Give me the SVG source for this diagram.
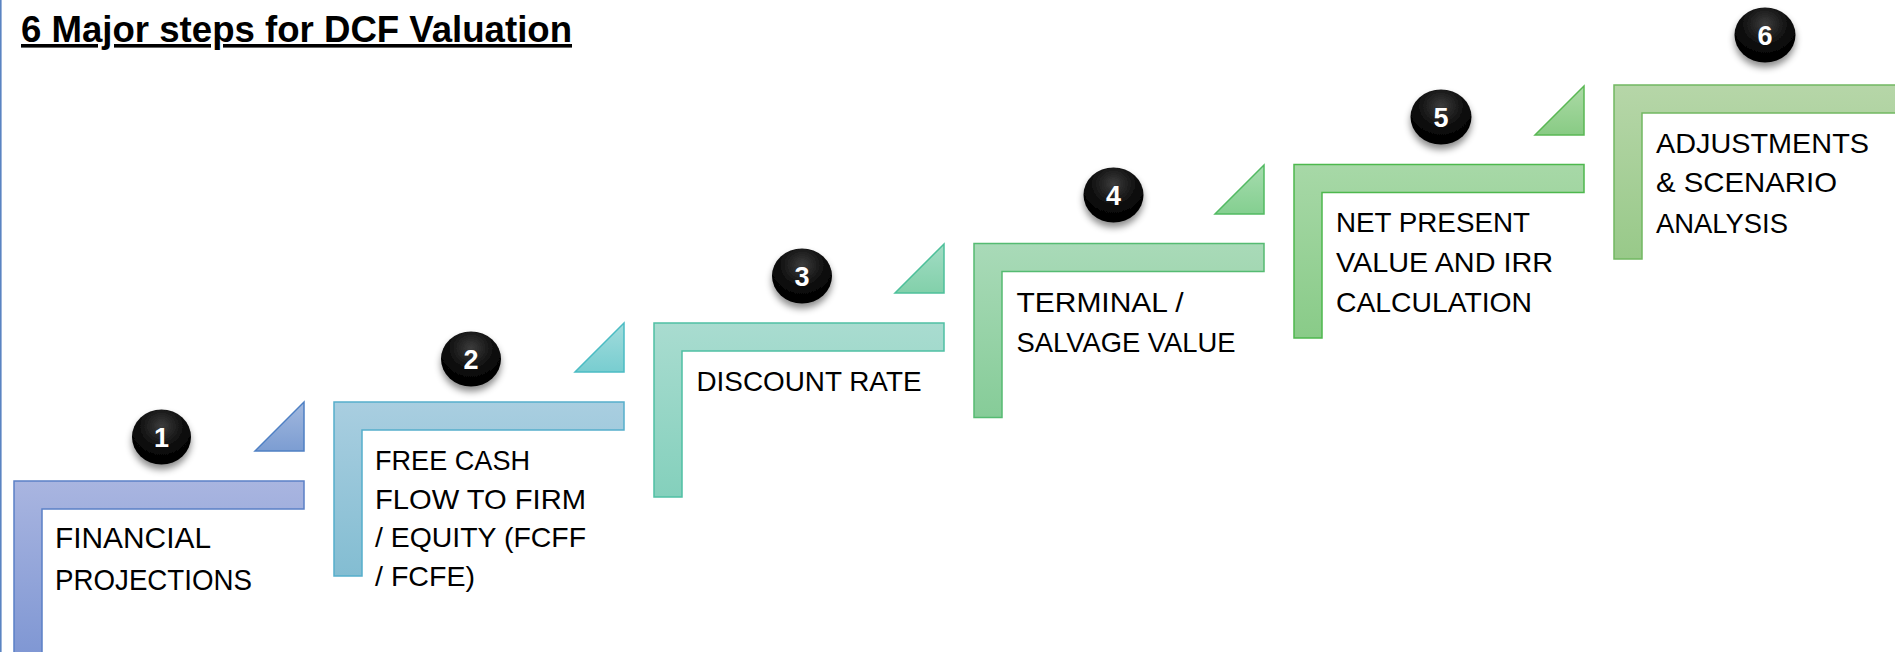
<svg xmlns="http://www.w3.org/2000/svg" width="1895" height="652" viewBox="0 0 1895 652">
<defs>
<style>
.lbl{font-family:"Liberation Sans",Arial,sans-serif;font-size:28px;fill:#000;}
.lbl1{font-family:"Liberation Sans",Arial,sans-serif;font-size:30px;fill:#000;}
.num{font-family:"Liberation Sans",Arial,sans-serif;font-size:27px;font-weight:bold;fill:#fff;text-anchor:middle;}
.title{font-family:"Liberation Sans",Arial,sans-serif;font-size:36px;font-weight:bold;fill:#000;text-decoration:underline;}
.badge{fill:url(#gBadge);filter:url(#shadow);}
.s1{fill:url(#g1);stroke:#5b80c6;stroke-width:1.5;}
.s2{fill:url(#g2);stroke:#55afcb;stroke-width:1.5;}
.s3{fill:url(#g3);stroke:#4fc0a4;stroke-width:1.5;}
.s4{fill:url(#g4);stroke:#55bb72;stroke-width:1.5;}
.s5{fill:url(#g5);stroke:#4db84d;stroke-width:1.5;}
.s6{fill:url(#g6);stroke:#72b862;stroke-width:1.5;}
.t1{fill:url(#tg1);stroke:#4f80c4;stroke-width:1.5;}
.t2{fill:url(#tg2);stroke:#4bbcc4;stroke-width:1.5;}
.t3{fill:url(#tg3);stroke:#4dc09a;stroke-width:1.5;}
.t4{fill:url(#tg4);stroke:#52ba62;stroke-width:1.5;}
.t5{fill:url(#tg5);stroke:#5ab854;stroke-width:1.5;}
</style>
<linearGradient id="g1" x1="0" y1="0" x2="0" y2="1"><stop offset="0" stop-color="#a9b5e0"/><stop offset="1" stop-color="#7e96d3"/></linearGradient>
<linearGradient id="g2" x1="0" y1="0" x2="0" y2="1"><stop offset="0" stop-color="#a9cee0"/><stop offset="1" stop-color="#83bdd2"/></linearGradient>
<linearGradient id="g3" x1="0" y1="0" x2="0" y2="1"><stop offset="0" stop-color="#a9dcd0"/><stop offset="1" stop-color="#84d0bc"/></linearGradient>
<linearGradient id="g4" x1="0" y1="0" x2="0" y2="1"><stop offset="0" stop-color="#a9dab8"/><stop offset="1" stop-color="#86cc98"/></linearGradient>
<linearGradient id="g5" x1="0" y1="0" x2="0" y2="1"><stop offset="0" stop-color="#a7d8a7"/><stop offset="1" stop-color="#89cb88"/></linearGradient>
<linearGradient id="g6" x1="0" y1="0" x2="0" y2="1"><stop offset="0" stop-color="#b6d6a8"/><stop offset="1" stop-color="#98c989"/></linearGradient>
<linearGradient id="tg1" x1="0" y1="0" x2="0" y2="1"><stop offset="0" stop-color="#a2b8de"/><stop offset="1" stop-color="#7c9dd2"/></linearGradient>
<linearGradient id="tg2" x1="0" y1="0" x2="0" y2="1"><stop offset="0" stop-color="#a2dcdc"/><stop offset="1" stop-color="#78cdd0"/></linearGradient>
<linearGradient id="tg3" x1="0" y1="0" x2="0" y2="1"><stop offset="0" stop-color="#a2dcc4"/><stop offset="1" stop-color="#82d0aa"/></linearGradient>
<linearGradient id="tg4" x1="0" y1="0" x2="0" y2="1"><stop offset="0" stop-color="#a6dcae"/><stop offset="1" stop-color="#84cf90"/></linearGradient>
<linearGradient id="tg5" x1="0" y1="0" x2="0" y2="1"><stop offset="0" stop-color="#acdaa6"/><stop offset="1" stop-color="#88cb84"/></linearGradient>
<radialGradient id="gBadge" cx="0.5" cy="0.3" r="0.7"><stop offset="0" stop-color="#3c3c3c"/><stop offset="0.6" stop-color="#0a0a0a"/><stop offset="1" stop-color="#000"/></radialGradient>
<filter id="shadow" x="-40%" y="-40%" width="180%" height="200%"><feDropShadow dx="0" dy="5" stdDeviation="3.5" flood-color="#000" flood-opacity="0.45"/></filter>
</defs>

<rect x="0" y="0" width="1.6" height="652" fill="#5a84c2"/>

<text id="title" class="title" x="21" y="42" textLength="551" lengthAdjust="spacingAndGlyphs">6 Major steps for DCF Valuation</text>

<g id="connectors">
<polygon class="t1" points="255,451 304,451 304,402"/>
<polygon class="t2" points="575,372 624,372 624,323"/>
<polygon class="t3" points="895,293 944,293 944,244"/>
<polygon class="t4" points="1215,214 1264,214 1264,165"/>
<polygon class="t5" points="1535,135 1584,135 1584,86"/>
</g>

<g id="step1">
<path class="s1" d="M14,481 H304 V509 H42 V660 H14 Z"/>
<ellipse class="badge" cx="161.5" cy="437" rx="29.5" ry="27.5"/>
<text class="num" x="161.5" y="446.5">1</text>
<text class="lbl1" x="55" y="548" textLength="156" lengthAdjust="spacingAndGlyphs">FINANCIAL</text>
<text class="lbl1" x="55" y="590" textLength="197" lengthAdjust="spacingAndGlyphs">PROJECTIONS</text>
</g>

<g id="step2">
<path class="s2" d="M334,402 H624 V430 H362 V576 H334 Z"/>
<ellipse class="badge" cx="471" cy="359" rx="30" ry="27.5"/>
<text class="num" x="471" y="368.5">2</text>
<text class="lbl" x="375" y="470" textLength="155" lengthAdjust="spacingAndGlyphs">FREE CASH</text>
<text class="lbl" x="375" y="508.5" textLength="211" lengthAdjust="spacingAndGlyphs">FLOW TO FIRM</text>
<text class="lbl" x="375" y="547" textLength="211" lengthAdjust="spacingAndGlyphs">/ EQUITY (FCFF</text>
<text class="lbl" x="375" y="585.5" textLength="100" lengthAdjust="spacingAndGlyphs">/ FCFE)</text>
</g>

<g id="step3">
<path class="s3" d="M654,323 H944 V351 H682 V497 H654 Z"/>
<ellipse class="badge" cx="802" cy="276" rx="30" ry="27.5"/>
<text class="num" x="802" y="285.5">3</text>
<text class="lbl" x="696.5" y="391" textLength="225" lengthAdjust="spacingAndGlyphs">DISCOUNT RATE</text>
</g>

<g id="step4">
<path class="s4" d="M974,243.5 H1264 V271.5 H1002 V417.5 H974 Z"/>
<ellipse class="badge" cx="1113.5" cy="195" rx="30" ry="27.5"/>
<text class="num" x="1113.5" y="204.5">4</text>
<text class="lbl" x="1016.5" y="311.5" textLength="167" lengthAdjust="spacingAndGlyphs">TERMINAL /</text>
<text class="lbl" x="1016.5" y="351.5" textLength="219" lengthAdjust="spacingAndGlyphs">SALVAGE VALUE</text>
</g>

<g id="step5">
<path class="s5" d="M1294,164.5 H1584 V192.5 H1322 V338 H1294 Z"/>
<ellipse class="badge" cx="1441" cy="117" rx="30.5" ry="27.5"/>
<text class="num" x="1441" y="126.5">5</text>
<text class="lbl" x="1336" y="231.5" textLength="194" lengthAdjust="spacingAndGlyphs">NET PRESENT</text>
<text class="lbl" x="1336" y="271.5" textLength="217" lengthAdjust="spacingAndGlyphs">VALUE AND IRR</text>
<text class="lbl" x="1336" y="311.5" textLength="196" lengthAdjust="spacingAndGlyphs">CALCULATION</text>
</g>

<g id="step6">
<path class="s6" d="M1614,85 H1904 V113 H1642 V259 H1614 Z"/>
<ellipse class="badge" cx="1765" cy="35" rx="30.5" ry="27.5"/>
<text class="num" x="1765" y="44.5">6</text>
<text class="lbl" x="1656" y="152.5" textLength="213" lengthAdjust="spacingAndGlyphs">ADJUSTMENTS</text>
<text class="lbl" x="1656" y="192" textLength="181" lengthAdjust="spacingAndGlyphs">&amp; SCENARIO</text>
<text class="lbl" x="1656" y="232.5" textLength="132" lengthAdjust="spacingAndGlyphs">ANALYSIS</text>
</g>
</svg>
